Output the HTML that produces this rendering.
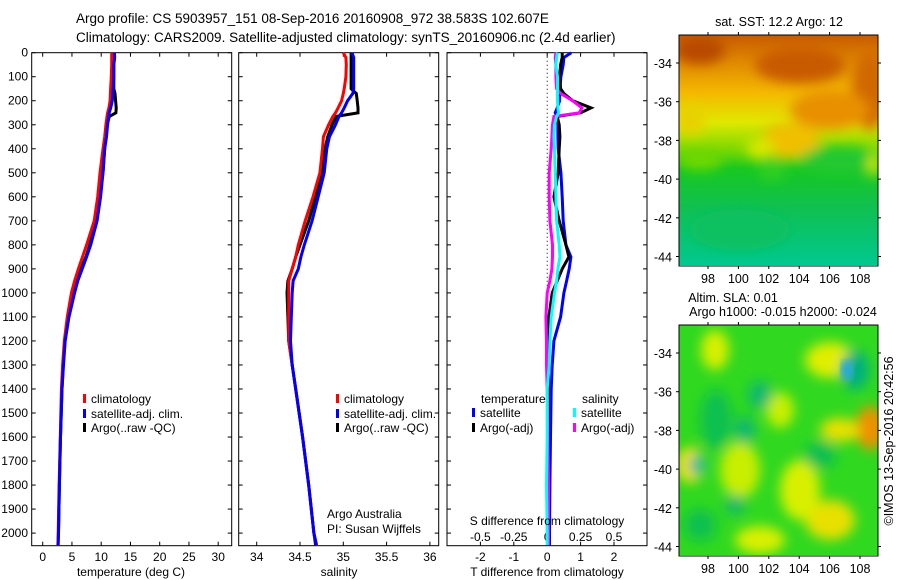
<!DOCTYPE html>
<html><head><meta charset="utf-8"><style>
html,body{margin:0;padding:0;background:#fff;}
svg{display:block;font-family:"Liberation Sans",sans-serif;}
text{fill:#000;}
</style></head><body>
<svg id="chart" width="900" height="580" viewBox="0 0 900 580" xmlns="http://www.w3.org/2000/svg">
<defs>
<linearGradient id="sstGrad" x1="0" y1="0" x2="0" y2="1">
<stop offset="0" stop-color="#c85a00"/><stop offset="0.12" stop-color="#e08a00"/><stop offset="0.25" stop-color="#f4b800"/>
<stop offset="0.38" stop-color="#e0e800"/><stop offset="0.5" stop-color="#7ad800"/><stop offset="0.58" stop-color="#18c820"/>
<stop offset="0.75" stop-color="#10c050"/><stop offset="1" stop-color="#00c890"/>
</linearGradient>
<filter id="blur6"><feGaussianBlur stdDeviation="6"/></filter>
<filter id="blur4"><feGaussianBlur stdDeviation="4"/></filter>
<clipPath id="clipTop"><rect x="679" y="35" width="199" height="230"/></clipPath>
<clipPath id="clipBot"><rect x="679" y="325" width="199" height="230"/></clipPath>
</defs>
<text x="76" y="23" font-size="13.5">Argo profile: CS 5903957_151 08-Sep-2016 20160908_972 38.583S 102.607E</text>
<text x="76" y="42" font-size="13.5">Climatology: CARS2009. Satellite-adjusted climatology: synTS_20160906.nc (2.4d earlier)</text>
<g id="panels"></g>
<g id="maps">
<g clip-path="url(#clipTop)">
<rect x="679" y="35" width="199" height="230" fill="url(#sstGrad)"/>
<g filter="url(#blur6)">
<ellipse cx="700" cy="50" rx="25" ry="14" fill="#b84800"/>
<ellipse cx="800" cy="65" rx="45" ry="18" fill="#c85a00"/>
<ellipse cx="870" cy="90" rx="18" ry="40" fill="#d06800"/>
<ellipse cx="830" cy="110" rx="40" ry="20" fill="#e89000"/>
<ellipse cx="690" cy="120" rx="15" ry="15" fill="#e8d000"/>
<ellipse cx="790" cy="140" rx="30" ry="18" fill="#f0c000"/>
<ellipse cx="760" cy="148" rx="14" ry="10" fill="#d8e800"/>
<ellipse cx="840" cy="160" rx="40" ry="14" fill="#20c830"/>
<ellipse cx="700" cy="160" rx="22" ry="10" fill="#70d800"/>
<ellipse cx="772" cy="170" rx="14" ry="10" fill="#30d020"/>
<ellipse cx="874" cy="165" rx="6" ry="12" fill="#d0e800"/>
<ellipse cx="740" cy="230" rx="50" ry="20" fill="#10c060"/>
</g></g>
<rect x="679" y="35" width="199" height="231" fill="none" stroke="#000" stroke-width="1"/>
<g clip-path="url(#clipBot)">
<rect x="679" y="325" width="199" height="230" fill="#30d820"/>
<g filter="url(#blur6)">
<ellipse cx="715" cy="350" rx="14" ry="20" fill="#d8f000"/>
<ellipse cx="690" cy="465" rx="14" ry="18" fill="#f0e000"/>
<ellipse cx="740" cy="470" rx="20" ry="28" fill="#c8ee00"/>
<ellipse cx="830" cy="360" rx="25" ry="18" fill="#e0ee00"/>
<ellipse cx="870" cy="428" rx="14" ry="22" fill="#f09000"/>
<ellipse cx="840" cy="430" rx="20" ry="12" fill="#e8e000"/>
<ellipse cx="830" cy="520" rx="25" ry="20" fill="#e8e000"/>
<ellipse cx="800" cy="490" rx="20" ry="30" fill="#d8f000"/>
<ellipse cx="760" cy="540" rx="25" ry="14" fill="#d8f000"/>
<ellipse cx="780" cy="410" rx="14" ry="18" fill="#c8f000"/>
<ellipse cx="855" cy="370" rx="14" ry="20" fill="#00b080"/>
<ellipse cx="716" cy="420" rx="16" ry="30" fill="#10c050"/>
<ellipse cx="760" cy="395" rx="12" ry="14" fill="#10b870"/>
<ellipse cx="745" cy="430" rx="10" ry="14" fill="#10b870"/>
<ellipse cx="697" cy="465" rx="8" ry="10" fill="#20b8a0"/>
<ellipse cx="700" cy="525" rx="16" ry="16" fill="#10c050"/>
<ellipse cx="820" cy="455" rx="16" ry="14" fill="#10c050"/>
<ellipse cx="735" cy="505" rx="10" ry="10" fill="#18b868"/>
</g>
<ellipse cx="847" cy="370" rx="6" ry="10" fill="#20a8e0" filter="url(#blur4)"/>
</g>
<rect x="679" y="325" width="199" height="231" fill="none" stroke="#000" stroke-width="1"/>
<text x="779" y="26" font-size="12.5" text-anchor="middle">sat. SST: 12.2 Argo: 12</text>
<text x="733" y="302" font-size="12.5" text-anchor="middle">Altim. SLA: 0.01</text>
<text x="783" y="316" font-size="12.5" text-anchor="middle">Argo h1000: -0.015 h2000: -0.024</text>
<text x="0" y="0" font-size="12.5" text-anchor="middle" transform="translate(893,441) rotate(-90)">©IMOS 13-Sep-2016 20:42:56</text>
</g>
</svg>
<script>
const depths = [0,20,50,100,150,170,200,230,250,265,300,350,400,500,600,700,800,850,900,950,1000,1100,1200,1300,1400,1600,1800,2000,2050];
const tempClim = [11.8,11.8,11.8,11.73,11.6,11.57,11.52,11.31,11.1,11.0,10.8,10.6,10.3,9.8,9.4,8.8,7.5,6.8,6.1,5.45,4.9,4.2,3.7,3.4,3.2,3.0,2.8,2.65,2.6];
const tempSat = [12.26,12.3,12.15,12.15,12.05,12.0,11.9,11.63,11.36,11.3,11.1,10.9,10.6,10.3,9.9,9.3,8.2,7.5,6.75,6.0,5.45,4.5,3.85,3.55,3.3,3.05,2.85,2.7,2.65];
const tempArgo = [12.26,12.26,12.15,12.15,12.15,12.36,12.47,12.57,12.52,11.4,11.0,10.8,10.6,10.3,9.6,9.1,8.05,7.4,6.5,5.65,5.06,4.3,3.8,3.5,3.3,3.05,2.85,2.7,2.6];
const salClim = [35.0,35.03,35.035,35.03,35.01,35.0,34.98,34.94,34.91,34.88,34.83,34.77,34.76,34.73,34.65,34.56,34.48,34.45,34.41,34.37,34.37,34.37,34.37,34.41,34.45,34.53,34.6,34.66,34.69];
const salSat = [35.1,35.12,35.12,35.12,35.12,35.11,35.05,35.01,34.98,34.95,34.91,34.84,34.81,34.78,34.71,34.64,34.55,34.51,34.48,34.42,34.41,34.4,34.39,34.41,34.45,34.53,34.6,34.66,34.69];
const salArgo = [35.09,35.09,35.09,35.09,35.09,35.15,35.16,35.17,35.17,34.92,34.87,34.82,34.79,34.76,34.68,34.6,34.5,34.45,34.41,34.36,34.35,34.36,34.37,34.41,34.45,34.53,34.6,34.66,34.68];
const tDiffSat = [0.72,0.5,0.48,0.41,0.38,0.37,0.37,0.3,0.24,0.3,0.32,0.32,0.33,0.41,0.45,0.48,0.56,0.71,0.66,0.58,0.5,0.4,0.2,0.15,0.12,0.1,0.08,0.07,0.07];
const tDiffArgo = [0.45,0.45,0.4,0.37,0.4,0.5,0.76,1.31,1.0,0.3,0.36,0.38,0.36,0.33,0.2,0.36,0.56,0.65,0.45,0.3,0.15,0.05,0.05,0.04,0.04,0.03,0.03,0.03,0.03];
const sDiffSat = [0.077,0.07,0.065,0.077,0.077,0.077,0.077,0.08,0.085,0.07,0.055,0.05,0.055,0.06,0.065,0.07,0.09,0.095,0.08,0.07,0.055,0.03,0.02,0.015,0.0,0.0,-0.005,0.0,0.0];
const sDiffArgo = [0.065,0.06,0.065,0.065,0.07,0.1,0.19,0.26,0.24,0.05,0.04,0.035,0.03,0.015,0.015,0.02,0.04,0.04,0.035,0.02,0.0,-0.01,-0.005,-0.005,0.0,0.005,0.01,0.01,0.01];
const depthTicks = [0,100,200,300,400,500,600,700,800,900,1000,1100,1200,1300,1400,1500,1600,1700,1800,1900,2000];
const tempTicks = [0,5,10,15,20,25,30];
const salTicks = [34,34.5,35,35.5,36];
const tDiffTicks = [-2,-1,0,1,2];
const sDiffTicks = [-0.5,-0.25,0,0.25,0.5];
const lonTicks = [98,100,102,104,106,108];
const latTicks = [-34,-36,-38,-40,-42,-44];

const NS='http://www.w3.org/2000/svg';
const root=document.getElementById('panels');
const TOP=52.7, BOT=545.7;
const yD=d=>TOP+0.2402*d;
const xT=v=>42.7+5.85*v;
const xS=v=>256.7+86.6*(v-34);
const xTD=v=>547.2+33.4*v;
const xSD=v=>547.2+133.6*v;
function mk(tag,attrs,parent){const e=document.createElementNS(NS,tag);for(const k in attrs)e.setAttribute(k,attrs[k]);(parent||root).appendChild(e);return e;}
function txt(s,x,y,anchor,size,parent){const t=mk('text',{x:x,y:y,'text-anchor':anchor||'start','font-size':size||12},parent);t.textContent=s;return t;}
function frame(x0,x1,name){
  const g=mk('g',{});
  
  
  const r=mk('rect',{x:x0,y:TOP,width:x1-x0,height:BOT-TOP,fill:'none',stroke:'#000','stroke-width':1},g);
  
  
  depthTicks.forEach(d=>{const y=yD(d);
    mk('line',{x1:x0,x2:x0+4,y1:y,y2:y,stroke:'#000'},g);
    mk('line',{x1:x1-4,x2:x1,y1:y,y2:y,stroke:'#000'},g);});
  return g;
}
function xticks(g,ticks,fx,ylab,labels){
  ticks.forEach(v=>{const x=fx(v);
    mk('line',{x1:x,x2:x,y1:BOT,y2:BOT-4,stroke:'#000'},g);
    mk('line',{x1:x,x2:x,y1:TOP,y2:TOP+4,stroke:'#000'},g);
    if(labels){const t=txt(String(v),x,ylab,'middle',12,g);
      
      }
  });
}
function line(g,xs,fx,color,name){
  const pts=depths.map((d,i)=>fx(xs[i]).toFixed(1)+','+yD(d).toFixed(1)).join(' ');
  const p=mk('polyline',{points:pts,fill:'none',stroke:color,'stroke-width':3},g);
  
  
}
function legend(g,x,y,color,label){
  mk('rect',{x:x,y:y-5,width:3,height:9,fill:color},g);
  const t=txt(label,x+8,y+4,'start',12,g);
  
  
}
const g1=frame(31.7,231.7,'temperature-panel');
depthTicks.forEach(d=>{const t=txt(String(d),28,yD(d)+4,'end',12,g1);
  
  });
xticks(g1,tempTicks,xT,561,true);
line(g1,tempArgo,xT,'#000','temp-argo-line');
line(g1,tempClim,xT,'#f00','temp-clim-line');
line(g1,tempSat,xT,'#00f','temp-sat-line');
legend(g1,83,399,'#f00','climatology');
legend(g1,83,414,'#00f','satellite-adj. clim.');
legend(g1,83,428,'#000','Argo(..raw -QC)');
const xl1=txt('temperature (deg C)',131,576,'middle',12,g1);


const g2=frame(238.7,438.7,'salinity-panel');
xticks(g2,salTicks,xS,561,true);
line(g2,salArgo,xS,'#000','sal-argo-line');
line(g2,salClim,xS,'#f00','sal-clim-line');
line(g2,salSat,xS,'#00f','sal-sat-line');
legend(g2,336,399,'#f00','climatology');
legend(g2,336,414,'#00f','satellite-adj. clim.');
legend(g2,336,428,'#000','Argo(..raw -QC)');
const a1=txt('Argo Australia',327,518,'start',12,g2);


const a2=txt('PI: Susan Wijffels',327,533,'start',12,g2);


const xl2=txt('salinity',339,576,'middle',12,g2);


const g3=frame(447,647,'difference-panel');
mk('line',{x1:xTD(0),x2:xTD(0),y1:TOP,y2:BOT,stroke:'#000','stroke-dasharray':'1,3'},g3);
xticks(g3,tDiffTicks,xTD,561,true);
sDiffTicks.forEach(v=>{const t=txt(String(v),xSD(v),541,'middle',12,g3);
  
  });
line(g3,tDiffSat,xTD,'#00f','t-diff-sat-line');
line(g3,tDiffArgo,xTD,'#000','t-diff-argo-line');
line(g3,sDiffArgo,xSD,'#f0f','s-diff-argo-line');
line(g3,sDiffSat,xSD,'#0ff','s-diff-sat-line');
const lt=txt('temperature',481,403,'start',12,g3);


const ls=txt('salinity',582,403,'start',12,g3);


legend(g3,472,413,'#00f','satellite');
legend(g3,472,428,'#000','Argo(-adj)');
legend(g3,573,413,'#0ff','satellite');
legend(g3,573,428,'#f0f','Argo(-adj)');
const sl=txt('S difference from climatology',547,525,'middle',12,g3);


const tl=txt('T difference from climatology',547,576,'middle',12,g3);


const mg=document.getElementById('maps');
[[35,266],[325,556]].forEach(([top,bot])=>{
  lonTicks.forEach(v=>{const x=708+15.2*(v-98);
    mk('line',{x1:x,x2:x,y1:bot,y2:bot+3,stroke:'#000'},mg);
    mk('line',{x1:x,x2:x,y1:top-3,y2:top,stroke:'#000'},mg);
    const t=txt(String(v),x,bot+17,'middle',12.5,mg);
    
    });
  latTicks.forEach(v=>{const y=top+28+19.35*(-34-v);
    mk('line',{x1:676,x2:679,y1:y,y2:y,stroke:'#000'},mg);
    mk('line',{x1:878,x2:881,y1:y,y2:y,stroke:'#000'},mg);
    const t=txt(String(v),672,y+5,'end',12.5,mg);
    
    });
});
</script>
</body></html>
